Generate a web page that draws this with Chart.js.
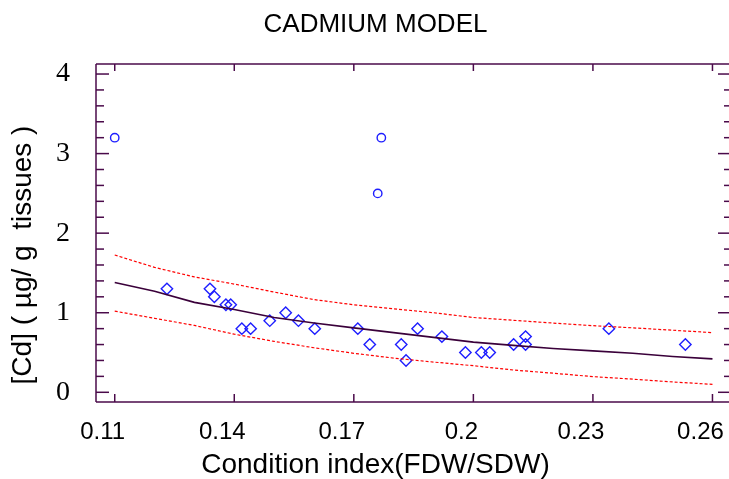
<!DOCTYPE html>
<html><head><meta charset="utf-8">
<script src="https://cdn.jsdelivr.net/npm/chart.js@4.4.0/dist/chart.umd.min.js"></script>
<style>
html,body{margin:0;padding:0;background:#fff;overflow:hidden;}
#wrap{width:740px;height:479px;}
</style></head><body>
<div id="wrap"><canvas id="c" width="740" height="479"></canvas></div>
<script>
// ---- data ----
const chartTitle = 'CADMIUM MODEL';
const xTitle = 'Condition index(FDW/SDW)';
const yTitle = '[Cd] ( µg/ g  tissues )';
const xTicks = [0.11, 0.14, 0.17, 0.2, 0.23, 0.26];
const yTicks = [0, 1, 2, 3, 4];

const diamondX = [0.1231,0.1339,0.1350,0.1379,0.1391,0.1419,0.1441,0.1489,0.1529,0.1561,0.1602,0.1710,0.1740,0.1819,0.1831,0.1860,0.1921,0.1980,0.2020,0.2041,0.2101,0.2131,0.2131,0.2340,0.2532];
const diamondY = [1.3,1.3,1.2,1.1,1.1,0.8,0.8,0.9,1.0,0.9,0.8,0.8,0.6,0.6,0.4,0.8,0.7,0.5,0.5,0.5,0.6,0.7,0.6,0.8,0.6];
const circleX = [0.1100,0.1769,0.1760];
const circleY = [3.2,3.2,2.5];

const curveX = [0.11,0.12,0.13,0.14,0.15,0.16,0.17,0.18,0.19,0.20,0.21,0.22,0.23,0.24,0.25,0.26];
const fitY   = [1.38,1.27,1.13,1.04,0.94,0.87,0.81,0.75,0.69,0.63,0.59,0.55,0.52,0.49,0.45,0.42];
const upperY = [1.725,1.57,1.45,1.36,1.26,1.165,1.10,1.05,1.00,0.94,0.905,0.87,0.837,0.81,0.78,0.75];
const lowerY = [1.02,0.93,0.84,0.73,0.64,0.56,0.49,0.43,0.38,0.334,0.28,0.24,0.197,0.165,0.13,0.10];

// ---- build ----
const zip = (xs, ys) => xs.map((x, i) => ({x, y: ys[i]}));
const axisColor = '#4a0a4a';

const frame = {
  id: 'frame',
  afterDatasetsDraw(chart) {
    const ctx = chart.ctx, a = chart.chartArea, xs = chart.scales.x, ys = chart.scales.y;
    ctx.save();
    ctx.strokeStyle = axisColor;
    ctx.lineWidth = 1.5;
    const seg = (x1, y1, x2, y2) => { ctx.beginPath(); ctx.moveTo(x1, y1); ctx.lineTo(x2, y2); ctx.stroke(); };
    seg(a.left, a.top, a.right + 2, a.top);
    seg(a.left, a.bottom, a.right + 2, a.bottom);
    seg(a.left, a.top, a.left, a.bottom);
    xTicks.forEach(v => {
      const px = xs.getPixelForValue(v);
      seg(px, a.bottom, px, a.bottom - 8);
      seg(px, a.top, px, a.top + 7);
    });
    for (let i = 0; i <= 20; i++) {
      const v = i * 0.2;
      const py = ys.getPixelForValue(v);
      if (py < a.top || py > a.bottom) continue;
      const major = i % 5 === 0;
      seg(a.left, py, a.left + (major ? 13 : 8), py);
      seg(a.right + 2, py, a.right - (major ? 12 : 6), py);
    }
    ctx.restore();
  },
  afterDraw(chart) {
    const ctx = chart.ctx;
    ctx.save();
    ctx.fillStyle = '#000';
    ctx.textAlign = 'center';
    ctx.textBaseline = 'alphabetic';
    ctx.font = '26px "Liberation Sans", Arial, sans-serif';
    ctx.fillText(chartTitle, 375.5, 32);
    ctx.font = '28px "Liberation Sans", Arial, sans-serif';
    ctx.fillText(xTitle, 375.5, 473);
    ctx.translate(23, 255);
    ctx.rotate(-Math.PI / 2);
    ctx.textBaseline = 'middle';
    ctx.fillText(yTitle, 0, 0);
    ctx.restore();
  }
};

new Chart(document.getElementById('c'), {
  type: 'scatter',
  data: {
    datasets: [
      {data: zip(curveX, fitY), showLine: true, borderColor: '#3a003a', borderWidth: 1.6, pointRadius: 0, tension: 0, fill: false},
      {data: zip(curveX, upperY), showLine: true, borderColor: '#ff0000', borderWidth: 1.2, borderDash: [3, 2], pointRadius: 0, tension: 0, fill: false},
      {data: zip(curveX, lowerY), showLine: true, borderColor: '#ff0000', borderWidth: 1.2, borderDash: [3, 2], pointRadius: 0, tension: 0, fill: false},
      {data: zip(diamondX, diamondY), pointStyle: 'rectRot', pointRadius: 5.7, borderColor: '#1e1eff', backgroundColor: 'rgba(0,0,0,0)', borderWidth: 1.4},
      {data: zip(circleX, circleY), pointStyle: 'circle', pointRadius: 4.2, borderColor: '#1e1eff', backgroundColor: 'rgba(0,0,0,0)', borderWidth: 1.4}
    ]
  },
  options: {
    responsive: false,
    animation: false,
    devicePixelRatio: 1,
    layout: {padding: {top: 64, right: 10, left: 0, bottom: 0}},
    plugins: {legend: {display: false}, tooltip: {enabled: false}, title: {display: false}},
    scales: {
      x: {
        type: 'linear', min: 0.1053, max: 0.2644,
        grid: {display: false, drawTicks: false},
        border: {display: false},
        afterBuildTicks: s => { s.ticks = xTicks.map(v => ({value: v})); },
        afterFit: s => { s.height = 77; s.paddingLeft = 0; s.paddingRight = 0; },
        ticks: {font: {family: 'Liberation Sans', size: 24}, color: '#000', padding: 16, labelOffset: -12, maxRotation: 0, autoSkip: false, callback: v => String(v)}
      },
      y: {
        type: 'linear', min: -0.122, max: 4.126,
        grid: {display: false, drawTicks: false},
        border: {display: false},
        afterBuildTicks: s => { s.ticks = yTicks.map(v => ({value: v})); },
        afterFit: s => { s.width = 96; s.paddingTop = 0; s.paddingBottom = 0; },
        ticks: {font: {family: 'Liberation Serif', size: 28}, color: '#000', padding: 26, autoSkip: false, callback: v => String(v)}
      }
    }
  },
  plugins: [frame]
});
</script>
</body></html>
